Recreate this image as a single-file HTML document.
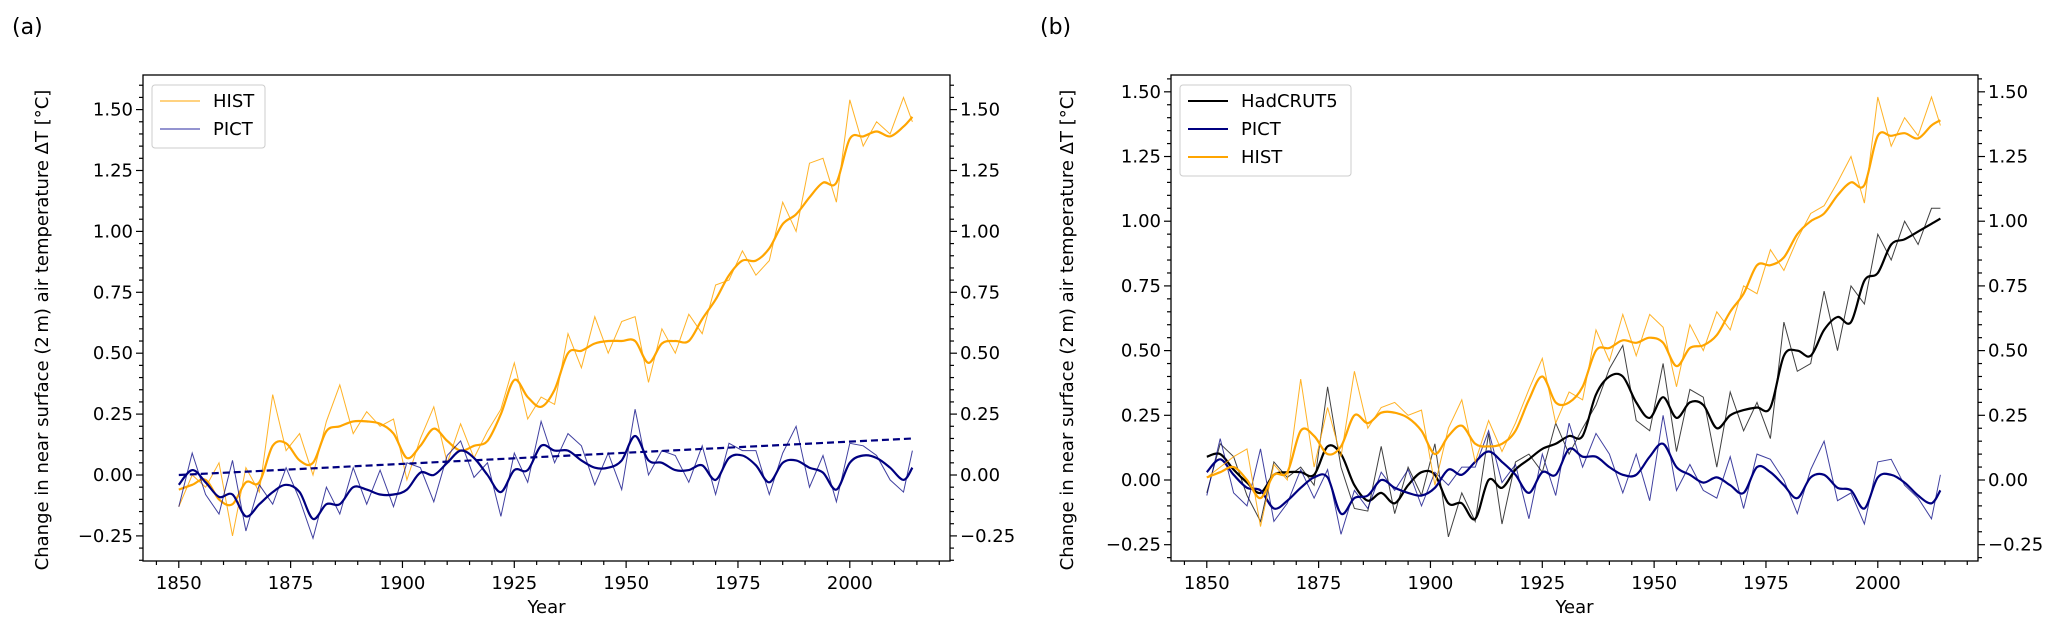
<!DOCTYPE html>
<html><head><meta charset="utf-8"><style>
body{margin:0;background:#fff;}
svg{display:block;font-family:"DejaVu Sans","Liberation Sans",sans-serif;}
</style></head><body>
<svg id="fig" width="2067" height="634" viewBox="0 0 2067 634" xmlns="http://www.w3.org/2000/svg">
<text x="12" y="34" font-size="22">(a)</text>
<text x="1040" y="34" font-size="22">(b)</text>
</svg>
<script>
const years = [1850,1853,1856,1859,1862,1865,1868,1871,1874,1877,1880,1883,1886,1889,1892,1895,1898,1901,1904,1907,1910,1913,1916,1919,1922,1925,1928,1931,1934,1937,1940,1943,1946,1949,1952,1955,1958,1961,1964,1967,1970,1973,1976,1979,1982,1985,1988,1991,1994,1997,2000,2003,2006,2009,2012,2014];
const xTicks = [1850,1875,1900,1925,1950,1975,2000];
const yTicks = [-0.25,0,0.25,0.5,0.75,1.0,1.25,1.5];
const yTickLabels = ["\u22120.25","0.00","0.25","0.50","0.75","1.00","1.25","1.50"];
// Panel (a)
const histA_smooth = [-0.06,-0.04,-0.02,-0.10,-0.12,-0.03,-0.03,0.12,0.13,0.06,0.05,0.18,0.20,0.22,0.22,0.21,0.17,0.07,0.12,0.19,0.14,0.10,0.12,0.14,0.25,0.39,0.32,0.28,0.35,0.50,0.51,0.54,0.55,0.55,0.55,0.46,0.54,0.55,0.55,0.64,0.72,0.82,0.88,0.88,0.93,1.03,1.07,1.14,1.20,1.20,1.38,1.39,1.41,1.39,1.43,1.47];
const histA_raw = [-0.13,0.00,-0.05,0.05,-0.25,0.03,-0.07,0.33,0.10,0.17,0.00,0.22,0.37,0.17,0.26,0.20,0.23,-0.02,0.15,0.28,0.05,0.21,0.07,0.18,0.27,0.46,0.23,0.32,0.29,0.58,0.44,0.65,0.50,0.63,0.65,0.38,0.60,0.50,0.66,0.58,0.78,0.80,0.92,0.82,0.88,1.12,1.00,1.28,1.30,1.12,1.54,1.35,1.45,1.40,1.55,1.45];
const pictA_smooth = [-0.04,0.02,-0.03,-0.09,-0.08,-0.17,-0.12,-0.07,-0.04,-0.07,-0.18,-0.12,-0.12,-0.05,-0.06,-0.08,-0.08,-0.06,0.01,0.00,0.05,0.10,0.07,0.00,-0.07,0.02,0.02,0.12,0.10,0.10,0.06,0.03,0.03,0.06,0.16,0.06,0.05,0.02,0.02,0.04,-0.02,0.07,0.08,0.04,-0.03,0.05,0.06,0.03,0.01,-0.06,0.05,0.08,0.07,0.03,-0.02,0.03];
const pictA_raw = [-0.13,0.09,-0.08,-0.16,0.06,-0.23,-0.04,-0.12,0.03,-0.10,-0.26,-0.05,-0.16,0.03,-0.12,0.02,-0.13,0.05,0.03,-0.11,0.08,0.14,-0.01,0.05,-0.17,0.09,-0.03,0.22,0.05,0.17,0.12,-0.04,0.09,-0.06,0.27,0.00,0.10,0.08,-0.03,0.12,-0.08,0.13,0.10,0.10,-0.08,0.09,0.20,-0.05,0.08,-0.11,0.13,0.12,0.08,-0.02,-0.07,0.10];
const trendYears = [1850,2014];
const trendValues = [0.0,0.15];
// Panel (b)
const histB_smooth = [0.01,0.03,0.05,0.00,-0.07,0.02,0.03,0.19,0.17,0.10,0.13,0.25,0.22,0.26,0.26,0.24,0.19,0.10,0.17,0.21,0.14,0.13,0.14,0.19,0.31,0.40,0.30,0.30,0.36,0.50,0.51,0.54,0.53,0.55,0.53,0.44,0.51,0.52,0.56,0.65,0.72,0.83,0.83,0.86,0.95,1.00,1.03,1.10,1.15,1.14,1.33,1.33,1.34,1.32,1.37,1.39];
const histB_raw = [0.01,0.05,0.09,0.12,-0.18,0.06,0.00,0.39,0.05,0.28,0.09,0.42,0.20,0.28,0.30,0.25,0.27,-0.02,0.20,0.31,0.07,0.23,0.11,0.22,0.35,0.47,0.22,0.34,0.31,0.58,0.46,0.64,0.48,0.64,0.59,0.36,0.60,0.50,0.65,0.58,0.75,0.72,0.89,0.81,0.93,1.03,1.06,1.15,1.25,1.07,1.48,1.29,1.40,1.33,1.48,1.37];
const hadB_smooth = [0.09,0.10,0.04,-0.01,-0.05,0.02,0.03,0.03,0.02,0.13,0.10,-0.02,-0.08,-0.05,-0.09,-0.02,0.03,0.02,-0.09,-0.09,-0.15,0.00,-0.03,0.04,0.08,0.12,0.14,0.17,0.17,0.33,0.40,0.40,0.30,0.24,0.32,0.24,0.30,0.29,0.20,0.25,0.27,0.28,0.28,0.48,0.50,0.48,0.58,0.63,0.61,0.77,0.80,0.91,0.93,0.96,0.99,1.01];
const hadB_raw = [-0.05,0.14,0.09,-0.06,-0.16,0.07,0.01,0.05,-0.02,0.36,0.05,-0.11,-0.12,0.13,-0.13,0.05,-0.06,0.14,-0.22,-0.05,-0.16,0.18,-0.17,0.07,0.10,0.03,0.22,0.10,0.20,0.29,0.43,0.52,0.23,0.19,0.45,0.11,0.35,0.32,0.05,0.34,0.19,0.30,0.16,0.61,0.42,0.45,0.73,0.50,0.75,0.68,0.95,0.85,1.00,0.91,1.05,1.05];
const pictB_smooth = [0.03,0.08,0.02,-0.03,-0.04,-0.11,-0.08,-0.03,0.01,0.01,-0.13,-0.07,-0.06,0.00,-0.03,-0.05,-0.06,-0.03,0.04,0.02,0.07,0.11,0.07,0.02,-0.05,0.03,0.02,0.12,0.09,0.09,0.05,0.02,0.02,0.09,0.14,0.05,0.02,-0.01,0.01,-0.02,-0.05,0.05,0.03,-0.02,-0.07,0.01,0.02,-0.03,-0.04,-0.11,0.01,0.02,-0.01,-0.06,-0.09,-0.04];
const pictB_raw = [-0.06,0.16,-0.05,-0.10,0.12,-0.16,-0.09,0.04,-0.07,0.04,-0.21,-0.04,-0.11,0.03,-0.04,0.04,-0.10,0.03,-0.02,0.05,0.05,0.19,-0.01,0.06,-0.15,0.10,-0.06,0.22,0.05,0.18,0.10,-0.05,0.10,-0.08,0.25,-0.04,0.06,-0.04,-0.07,0.09,-0.11,0.10,0.08,0.00,-0.13,0.04,0.15,-0.08,-0.05,-0.17,0.07,0.08,-0.02,-0.07,-0.15,0.02];

const NS = "http://www.w3.org/2000/svg";
const fig = document.getElementById('fig');
function mk(tag, attrs, parent){const e=document.createElementNS(NS,tag);for(const k in attrs)e.setAttribute(k,attrs[k]);(parent||fig).appendChild(e);return e;}

function panel(cfg){
  const g = mk('g',{});
  
  
  const xS = y => cfg.x0 + (y - cfg.xmin)/(cfg.xmax - cfg.xmin)*(cfg.x1 - cfg.x0);
  const yS = v => cfg.y1 - (v - cfg.ymin)/(cfg.ymax - cfg.ymin)*(cfg.y1 - cfg.y0);
  function linePath(xs, vs, smooth){
    const n = Math.min(xs.length, vs.length);
    const p = []; for(let i=0;i<n;i++) p.push([xS(xs[i]), yS(vs[i])]);
    if(!smooth) return 'M'+p.map(q=>q[0].toFixed(1)+','+q[1].toFixed(1)).join('L');
    let d='M'+p[0][0].toFixed(1)+','+p[0][1].toFixed(1);
    for(let i=0;i<n-1;i++){
      const p0=p[Math.max(0,i-1)],p1=p[i],p2=p[i+1],p3=p[Math.min(n-1,i+2)];
      const c1=[p1[0]+(p2[0]-p0[0])/6,p1[1]+(p2[1]-p0[1])/6];
      const c2=[p2[0]-(p3[0]-p1[0])/6,p2[1]-(p3[1]-p1[1])/6];
      d+='C'+c1.map(v=>v.toFixed(1)).join(',')+' '+c2.map(v=>v.toFixed(1)).join(',')+' '+p2[0].toFixed(1)+','+p2[1].toFixed(1);
    }
    return d;
  }
  cfg.series.forEach(s=>{
    const raw = mk('path',{d:linePath(years,s.raw,false),fill:'none',stroke:s.color,'stroke-width':1,'stroke-opacity':s.rawOp||0.85},g);
    
    
    const sm = mk('path',{d:linePath(years,s.smooth,true),fill:'none',stroke:s.color,'stroke-width':2.2},g);
    
    
  });
  if(cfg.trend){
    const t = mk('path',{d:linePath(trendYears,trendValues,false),fill:'none',stroke:'#000080','stroke-width':2.2,'stroke-dasharray':'7,4'},g);
    
    
  }
  const fr = mk('rect',{x:cfg.x0,y:cfg.y0,width:cfg.x1-cfg.x0,height:cfg.y1-cfg.y0,fill:'none',stroke:'#000','stroke-width':1.3},g);
  
  
  for(let yr=1845; yr<=cfg.xmax; yr+=5){
    const x=xS(yr); if(x<cfg.x0) continue;
    const major = xTicks.indexOf(yr)>=0;
    mk('line',{x1:x,y1:cfg.y1,x2:x,y2:cfg.y1+(major?7:4),stroke:'#000','stroke-width':1.2},g);
  }
  xTicks.forEach(t=>{
    const tx = mk('text',{x:xS(t),y:cfg.y1+28,'font-size':18,'text-anchor':'middle'},g);
    tx.textContent=t;
    
    
  });
  for(let k=-7;k<=33;k++){
    const v=k*0.05; if(v<cfg.ymin||v>cfg.ymax) continue;
    const y=yS(v); const major = (k%5===0);
    const L = major?7:4;
    mk('line',{x1:cfg.x0,y1:y,x2:cfg.x0-L,y2:y,stroke:'#000','stroke-width':1.2},g);
    mk('line',{x1:cfg.x1,y1:y,x2:cfg.x1+L,y2:y,stroke:'#000','stroke-width':1.2},g);
  }
  yTicks.forEach((v,i)=>{
    const y=yS(v)+6;
    const a = mk('text',{x:cfg.x0-10,y:y,'font-size':18,'text-anchor':'end'},g);
    a.textContent=yTickLabels[i];
    
    
    const b = mk('text',{x:cfg.x1+10,y:y,'font-size':18,'text-anchor':'start'},g);
    b.textContent=yTickLabels[i];
    
    
  });
  const xl = mk('text',{x:(cfg.x0+cfg.x1)/2,y:cfg.y1+52,'font-size':18,'text-anchor':'middle'},g);
  xl.textContent='Year';
  
  
  const yl = mk('text',{x:0,y:0,'font-size':18,'text-anchor':'middle',transform:`translate(${cfg.ylabX},${(cfg.y0+cfg.y1)/2+12}) rotate(-90)`},g);
  yl.textContent='Change in near surface (2\u2009m) air temperature \u0394T [\u00B0C]';
  
  
  const lg = mk('g',{},g);
  
  
  mk('rect',{x:cfg.x0+9,y:cfg.y0+10,width:cfg.legW,height:cfg.legend.length*28+7,rx:3,fill:'#fff',stroke:'#ccc','stroke-width':1},lg);
  cfg.legend.forEach((e,i)=>{
    const yy = cfg.y0+26+i*28;
    const en = mk('g',{},lg);
    
    
    mk('line',{x1:cfg.x0+17,y1:yy,x2:cfg.x0+57,y2:yy,stroke:e.color,'stroke-width':e.w},en);
    const t = mk('text',{x:cfg.x0+70,y:yy+6,'font-size':18},en);
    t.textContent=e.label;
  });
}

panel({name:'panel-a', x0:143,x1:950,y0:75,y1:561,xmin:1842.0,xmax:2022.4,ymin:-0.353,ymax:1.642,ylabX:48,trend:true,legW:113,
  series:[{key:'hist',color:'#ffa500',raw:histA_raw,smooth:histA_smooth},{key:'pict',color:'#000080',raw:pictA_raw,smooth:pictA_smooth,rawOp:0.75}],
  legend:[{label:'HIST',color:'#ffa500',w:1},{label:'PICT',color:'#2a2aa0',w:1}]});
panel({name:'panel-b', x0:1171,x1:1978,y0:75,y1:561,xmin:1842.0,xmax:2022.4,ymin:-0.313,ymax:1.565,ylabX:1073,trend:false,legW:171,
  series:[{key:'hadcrut5',color:'#000000',raw:hadB_raw,smooth:hadB_smooth,rawOp:0.75},{key:'pict',color:'#000080',raw:pictB_raw,smooth:pictB_smooth,rawOp:0.75},{key:'hist',color:'#ffa500',raw:histB_raw,smooth:histB_smooth}],
  legend:[{label:'HadCRUT5',color:'#000',w:2},{label:'PICT',color:'#000080',w:2},{label:'HIST',color:'#ffa500',w:2}]});
</script>
</body></html>
